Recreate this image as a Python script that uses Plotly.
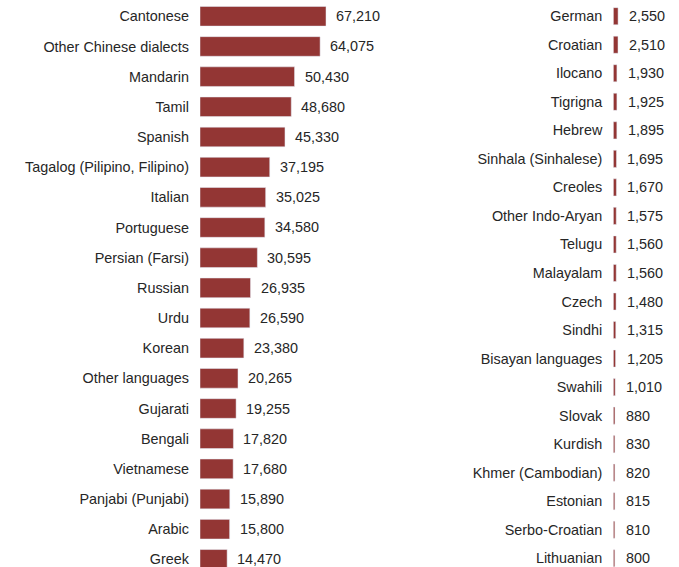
import plotly.graph_objects as go

left_langs = ["Cantonese", "Other Chinese dialects", "Mandarin", "Tamil", "Spanish",
              "Tagalog (Pilipino, Filipino)", "Italian", "Portuguese", "Persian (Farsi)",
              "Russian", "Urdu", "Korean", "Other languages", "Gujarati", "Bengali",
              "Vietnamese", "Panjabi (Punjabi)", "Arabic", "Greek"]
left_vals = [67210, 64075, 50430, 48680, 45330, 37195, 35025, 34580, 30595,
             26935, 26590, 23380, 20265, 19255, 17820, 17680, 15890, 15800, 14470]

right_langs = ["German", "Croatian", "Ilocano", "Tigrigna", "Hebrew", "Sinhala (Sinhalese)",
               "Creoles", "Other Indo-Aryan", "Telugu", "Malayalam", "Czech", "Sindhi",
               "Bisayan languages", "Swahili", "Slovak", "Kurdish", "Khmer (Cambodian)",
               "Estonian", "Serbo-Croatian", "Lithuanian"]
right_vals = [2550, 2510, 1930, 1925, 1895, 1695, 1670, 1575, 1560, 1560, 1480, 1315,
              1205, 1010, 880, 830, 820, 815, 810, 800]

BAR = "#933634"
TXT = "#262626"
FONT = "Liberation Sans, Arial, sans-serif"
FS = 14.4
W, H = 679, 567
PX_PER_UNIT = 126 / 67210

fig = go.Figure()
fig.add_trace(go.Bar(x=left_vals, y=left_langs, orientation="h", marker_color=BAR,
                     width=0.65, xaxis="x", yaxis="y", hoverinfo="skip"))
fig.add_trace(go.Bar(x=right_vals, y=right_langs, orientation="h", marker_color=BAR,
                     width=0.6, xaxis="x2", yaxis="y2", hoverinfo="skip"))

annotations = []
for lang, v in zip(left_langs, left_vals):
    annotations.append(dict(x=v, y=lang, xref="x", yref="y", text=f"{v:,}",
                            showarrow=False, xanchor="left", xshift=8,
                            font=dict(size=FS, color=TXT, family=FONT)))
for lang, v in zip(right_langs, right_vals):
    annotations.append(dict(x=v, y=lang, xref="x2", yref="y2", text=f"{v:,}",
                            showarrow=False, xanchor="left", xshift=9,
                            font=dict(size=FS, color=TXT, family=FONT)))

lx0 = 200
lx1 = 440
rx0 = 613.3

fig.update_layout(
    width=W, height=H,
    margin=dict(l=0, r=0, t=0, b=0),
    paper_bgcolor="white", plot_bgcolor="white",
    showlegend=False,
    font=dict(family=FONT, size=FS, color=TXT),
    annotations=annotations,
    xaxis=dict(domain=[lx0 / W, lx1 / W], range=[0, (lx1 - lx0) / PX_PER_UNIT],
               visible=False, fixedrange=True),
    yaxis=dict(domain=[0, 1], anchor="x", type="category",
               range=[(H - 16.3) / 30.17, -16.3 / 30.17],
               showgrid=False, showline=False, zeroline=False, ticks="",
               ticklabelstandoff=10, tickfont=dict(size=FS, color=TXT, family=FONT)),
    xaxis2=dict(domain=[rx0 / W, 1], range=[0, (W - rx0) / PX_PER_UNIT],
                visible=False, fixedrange=True, anchor="y2"),
    yaxis2=dict(domain=[0, 1], anchor="x2", type="category",
                range=[(H - 16.2) / 28.53, -16.2 / 28.53],
                showgrid=False, showline=False, zeroline=False, ticks="",
                ticklabelstandoff=10, tickfont=dict(size=FS, color=TXT, family=FONT)),
)

fig.write_html("out.html", config={"displayModeBar": False},
               post_script="document.body.style.margin='0px';document.body.style.overflow='hidden';")
